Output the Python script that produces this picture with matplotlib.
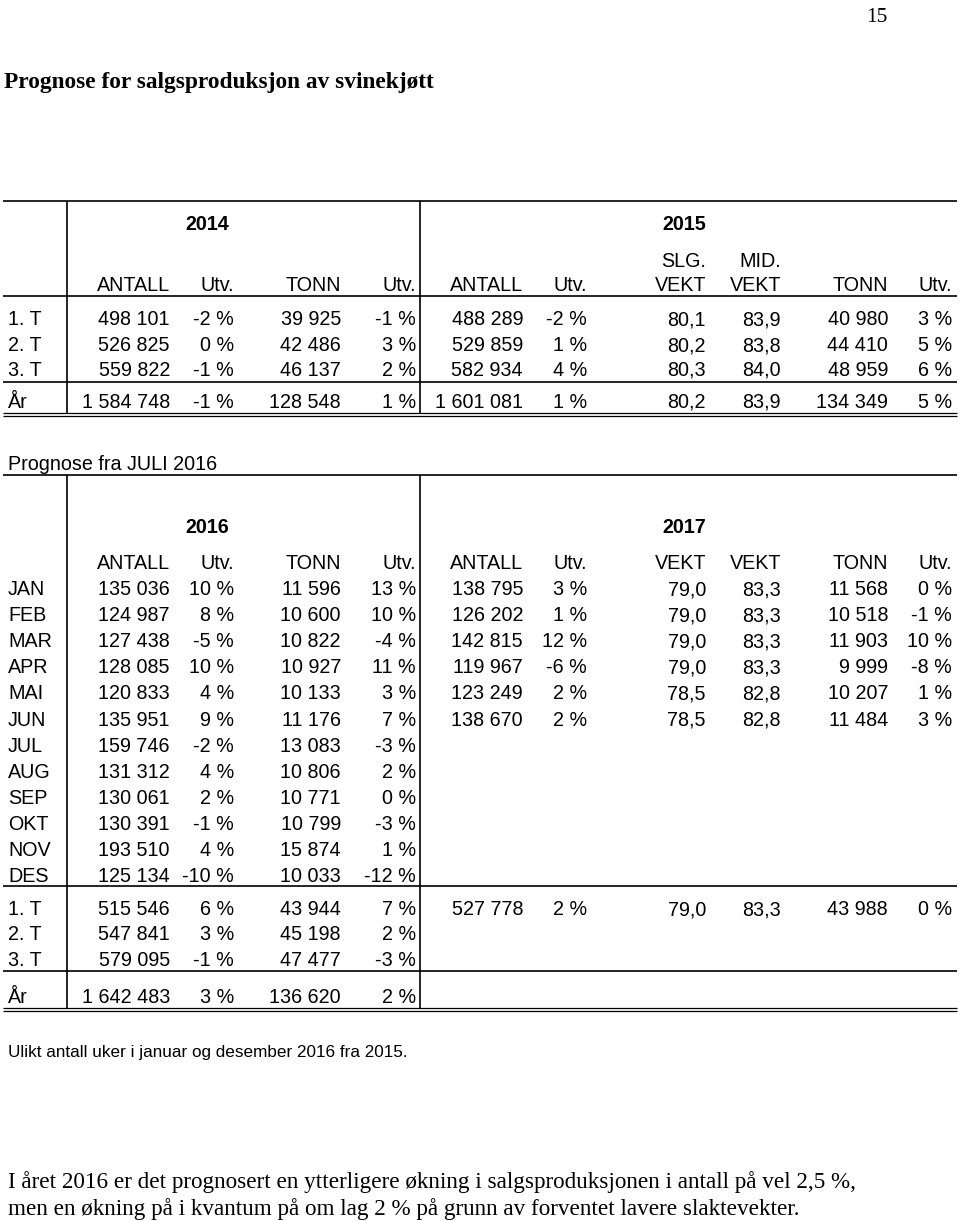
import matplotlib.pyplot as plt

# --- data: 2014 / 2015, per tertial
periods = ["1. T", "2. T", "3. T", "År"]
antall_2014 = [498101, 526825, 559822, 1584748]
utv_antall_2014 = [-2, 0, -1, -1]
tonn_2014 = [39925, 42486, 46137, 128548]
utv_tonn_2014 = [-1, 3, 2, 1]
antall_2015 = [488289, 529859, 582934, 1601081]
utv_antall_2015 = [-2, 1, 4, 1]
slg_vekt_2015 = [80.1, 80.2, 80.3, 80.2]
mid_vekt_2015 = [83.9, 83.8, 84.0, 83.9]
tonn_2015 = [40980, 44410, 48959, 134349]
utv_tonn_2015 = [3, 5, 6, 5]

# --- data: prognose 2016 / 2017, per month
months = ["JAN", "FEB", "MAR", "APR", "MAI", "JUN",
          "JUL", "AUG", "SEP", "OKT", "NOV", "DES"]
antall_2016 = [135036, 124987, 127438, 128085, 120833, 135951,
               159746, 131312, 130061, 130391, 193510, 125134]
utv_antall_2016 = [10, 8, -5, 10, 4, 9, -2, 4, 2, -1, 4, -10]
tonn_2016 = [11596, 10600, 10822, 10927, 10133, 11176,
             13083, 10806, 10771, 10799, 15874, 10033]
utv_tonn_2016 = [13, 10, -4, 11, 3, 7, -3, 2, 0, -3, 1, -12]
antall_2017 = [138795, 126202, 142815, 119967, 123249, 138670]
utv_antall_2017 = [3, 1, 12, -6, 2, 2]
slg_vekt_2017 = [79.0, 79.0, 79.0, 79.0, 78.5, 78.5]
mid_vekt_2017 = [83.3, 83.3, 83.3, 83.3, 82.8, 82.8]
tonn_2017 = [11568, 10518, 11903, 9999, 10207, 11484]
utv_tonn_2017 = [0, -1, 10, -8, 1, 3]

# --- data: prognose 2016 / 2017, per tertial
antall_2016_t = [515546, 547841, 579095, 1642483]
utv_antall_2016_t = [6, 3, -1, 3]
tonn_2016_t = [43944, 45198, 47477, 136620]
utv_tonn_2016_t = [7, 2, -3, 2]
antall_2017_t = [527778]
utv_antall_2017_t = [2]
slg_vekt_2017_t = [79.0]
mid_vekt_2017_t = [83.3]
tonn_2017_t = [43988]
utv_tonn_2017_t = [0]


def fmt_int(n):
    return "{:,}".format(n).replace(",", " ")


def fmt_pct(p):
    return "{} %".format(p)


def fmt_dec(v):
    return "{:.1f}".format(v).replace(".", ",")


SANS = "Liberation Sans"
SERIF = "Liberation Serif"
FS = 14.2

# right edge of each value column
col_x = [170, 234, 341, 416, 523, 587, 706, 781, 888, 952]
label_x = 8

fig = plt.figure(figsize=(9.6, 12.21), dpi=100)
ax = fig.add_axes([0, 0, 1, 1])
ax.set_xlim(0, 960)
ax.set_ylim(1221, 0)
ax.axis("off")


def txt(x, y, s, ha="right", size=FS, weight="normal", family=SANS):
    ax.text(x, y, s, ha=ha, va="baseline", fontsize=size,
            fontweight=weight, family=family, color="black")


def hline(y, lw=1.2):
    ax.plot([3, 957], [y, y], color="black", lw=lw, solid_capstyle="butt")


def vline(x, y0, y1, lw=1.2):
    ax.plot([x, x], [y0, y1], color="black", lw=lw, solid_capstyle="butt")


def row(y, label, cells):
    txt(label_x, y, label, ha="left")
    for i, s in enumerate(cells):
        if s is not None:
            txt(col_x[i], y, s)


# page number and title
txt(877, 22, "15", ha="center", size=15.5, family=SERIF)
txt(4, 88, "Prognose for salgsproduksjon av svinekjøtt", ha="left",
    size=16.8, weight="bold", family=SERIF)

# ---------- table 1 ----------
hline(201)
txt(207, 230, "2014", ha="center", weight="bold")
txt(684, 230, "2015", ha="center", weight="bold")
txt(col_x[6], 267, "SLG.")
txt(col_x[7], 267, "MID.")
for x, s in zip(col_x, ["ANTALL", "Utv.", "TONN", "Utv.", "ANTALL", "Utv.",
                        "VEKT", "VEKT", "TONN", "Utv."]):
    txt(x, 291, s)
hline(296)

t1_base = [325, 351, 376, 408]
for i, p in enumerate(periods):
    row(t1_base[i], p, [
        fmt_int(antall_2014[i]), fmt_pct(utv_antall_2014[i]),
        fmt_int(tonn_2014[i]), fmt_pct(utv_tonn_2014[i]),
        fmt_int(antall_2015[i]), fmt_pct(utv_antall_2015[i]),
        fmt_dec(slg_vekt_2015[i]), fmt_dec(mid_vekt_2015[i]),
        fmt_int(tonn_2015[i]), fmt_pct(utv_tonn_2015[i]),
    ])
hline(382)
hline(413, lw=0.9)
hline(416, lw=0.9)
vline(67, 201, 413)
vline(420, 201, 413)

# ---------- table 2 ----------
txt(label_x, 470, "Prognose fra JULI 2016", ha="left")
hline(475)
txt(207, 533, "2016", ha="center", weight="bold")
txt(684, 533, "2017", ha="center", weight="bold")
for x, s in zip(col_x, ["ANTALL", "Utv.", "TONN", "Utv.", "ANTALL", "Utv.",
                        "VEKT", "VEKT", "TONN", "Utv."]):
    txt(x, 569, s)

m_step = 26.1
for i, m in enumerate(months):
    y = 595 + i * m_step
    cells = [fmt_int(antall_2016[i]), fmt_pct(utv_antall_2016[i]),
             fmt_int(tonn_2016[i]), fmt_pct(utv_tonn_2016[i])]
    if i < len(antall_2017):
        cells += [fmt_int(antall_2017[i]), fmt_pct(utv_antall_2017[i]),
                  fmt_dec(slg_vekt_2017[i]), fmt_dec(mid_vekt_2017[i]),
                  fmt_int(tonn_2017[i]), fmt_pct(utv_tonn_2017[i])]
    row(y, m, cells)
hline(886)

t2_base = [915, 940, 966, 1003]
for i, p in enumerate(periods):
    cells = [fmt_int(antall_2016_t[i]), fmt_pct(utv_antall_2016_t[i]),
             fmt_int(tonn_2016_t[i]), fmt_pct(utv_tonn_2016_t[i])]
    if i < len(antall_2017_t):
        cells += [fmt_int(antall_2017_t[i]), fmt_pct(utv_antall_2017_t[i]),
                  fmt_dec(slg_vekt_2017_t[i]), fmt_dec(mid_vekt_2017_t[i]),
                  fmt_int(tonn_2017_t[i]), fmt_pct(utv_tonn_2017_t[i])]
    row(t2_base[i], p, cells)
hline(971)
hline(1008, lw=0.9)
hline(1011, lw=0.9)
vline(67, 475, 1008)
vline(420, 475, 1008)

# ---------- notes ----------
ax.text(label_x, 1057, "Ulikt antall uker i januar og desember 2016 fra 2015.",
        ha="left", va="baseline", fontsize=12.3,
        family=["Liberation Sans Narrow", SANS], color="black")
txt(label_x, 1188, "I året 2016 er det prognosert en ytterligere økning i "
    "salgsproduksjonen i antall på vel 2,5 %,", ha="left", size=16.7, family=SERIF)
txt(label_x, 1215, "men en økning på i kvantum på om lag 2 % på grunn av "
    "forventet lavere slaktevekter.", ha="left", size=16.7, family=SERIF)

fig.savefig("out.png", dpi=100)
